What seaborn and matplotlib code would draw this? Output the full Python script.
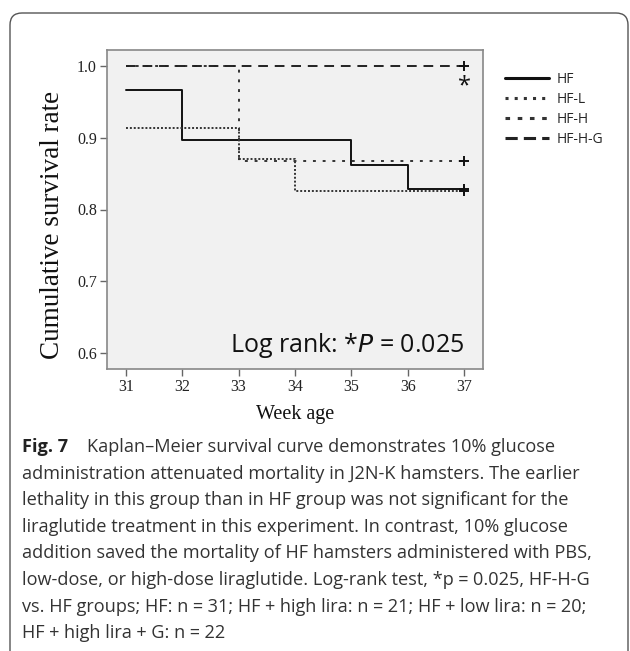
import numpy as np
import pandas as pd
import matplotlib
matplotlib.use("Agg")
import matplotlib.pyplot as plt
import seaborn as sns
from matplotlib.patches import FancyBboxPatch
from matplotlib.transforms import IdentityTransform
from matplotlib.lines import Line2D

# ---- data ----
weeks = [31, 32, 33, 34, 35, 36, 37]
groups = ["HF", "HF-L", "HF-H", "HF-H-G"]
surv_HF = [0.966, 0.897, 0.897, 0.897, 0.862, 0.828, 0.828]
surv_HFL = [0.913, 0.913, 0.870, 0.826, 0.826, 0.826, 0.826]
surv_HFH = [1.0, 1.0, 0.867, 0.867, 0.867, 0.867, 0.867]
surv_HFHG = [1.0, 1.0, 1.0, 1.0, 1.0, 1.0, 1.0]
yticks = [0.6, 0.7, 0.8, 0.9, 1.0]

sp_ = "\u2005"
caption_lines = [
    "Kaplan\u2013Meier survival curve demonstrates 10% glucose",
    "administration attenuated mortality in J2N-K hamsters. The earlier",
    "lethality in this group than in HF group was not significant for the",
    "liraglutide treatment in this experiment. In contrast, 10% glucose",
    "addition saved the mortality of HF hamsters administered with PBS,",
    f"low-dose, or high-dose liraglutide. Log-rank test, *p{sp_}={sp_}0.025, HF-H-G",
    f"vs. HF groups; HF: n{sp_}={sp_}31; HF{sp_}+{sp_}high lira: n{sp_}={sp_}21; HF{sp_}+{sp_}low lira: n{sp_}={sp_}20;",
    f"HF{sp_}+{sp_}high lira{sp_}+{sp_}G: n{sp_}={sp_}22",
]

series = {"HF": surv_HF, "HF-L": surv_HFL, "HF-H": surv_HFH, "HF-H-G": surv_HFHG}
df = pd.DataFrame(
    [(g, w, v) for g in groups for w, v in zip(weeks, series[g])],
    columns=["group", "week", "surv"],
)
cens = df[df["week"] == weeks[-1]]

sns.set_style("white")
plt.rcParams["font.family"] = ["DejaVu Sans"]

fig = plt.figure(figsize=(6.30, 6.51), dpi=100)
ax = fig.add_axes([106.7 / 630, 1 - 369 / 651, (482.7 - 106.7) / 630, (369 - 50) / 651])
ax.set_facecolor("#f1f1f1")

dashes = {
    "HF": "",
    "HF-L": (1, 1),
    "HF-H": (1.5, 3.5),
    "HF-H-G": (5, 3.5),
}
sns.lineplot(data=df, x="week", y="surv", hue="group", style="group",
             hue_order=groups, style_order=groups,
             palette=["#111111", "#333333", "#333333", "#222222"],
             dashes=dashes, estimator=None, drawstyle="steps-post",
             linewidth=1.4, ax=ax, legend=False)
sns.scatterplot(data=cens, x="week", y="surv", marker="+", color="#111111",
                s=60, linewidth=1.4, ax=ax, legend=False, zorder=5)

ax.set_xlim(30.663, 37.33)
ax.set_ylim(0.5777, 1.0223)
ax.set_xticks(weeks)
ax.set_yticks(yticks)
ax.set_yticklabels([f"{t:.1f}" for t in yticks])
serif = ["Liberation Serif", "DejaVu Serif"]
for lab in ax.get_xticklabels() + ax.get_yticklabels():
    lab.set_family(serif)
    lab.set_fontsize(11.5)
ax.tick_params(axis="both", direction="out", length=5, width=1, color="#666666",
               bottom=True, left=True, pad=2, labelcolor="#222222")
for sp in ax.spines.values():
    sp.set_color("#888888")
    sp.set_linewidth(1.2)

ax.set_xlabel("Week age", family=serif, fontsize=14.5, color="#111111")
ax.xaxis.set_label_coords(0.5, -0.113)
ax.set_ylabel("Cumulative survival rate", family=serif, fontsize=19.5, color="#111111")
ax.yaxis.set_label_coords(-0.112, 0.452)

sans = ["Open Sans", "DejaVu Sans"]
ax.text(37.0, 0.59, r"Log rank: *$\it{P}$ = 0.025", ha="right", va="bottom",
        fontsize=18, family=sans, color="#111111")
ax.text(37.0, 0.972, "*", ha="center", va="center", fontsize=17,
        family=sans, color="#111111")

# legend
handles = [Line2D([], [], color="#111111", lw=2.2, linestyle="-"),
           Line2D([], [], color="#333333", lw=2.2, linestyle=(0, (1, 2))),
           Line2D([], [], color="#333333", lw=2.2, linestyle=(0, (1.5, 2.5))),
           Line2D([], [], color="#222222", lw=2.2, linestyle=(0, (4, 2)))]
fig.legend(handles, groups, loc="upper left", bbox_to_anchor=(505 / 630, 1 - 72 / 651),
           frameon=False, handlelength=3.2, handletextpad=0.5,
           labelspacing=0.35, borderaxespad=0, borderpad=0,
           prop={"family": sans, "size": 10})

# caption
y0 = 1 - 447 / 651
dy = 26.6 / 651
fs = 13.1
fig.text(22 / 630, y0, "Fig. 7", ha="left", va="center", fontsize=fs,
         fontweight="bold", family=sans, color="#222222")
fig.text(87 / 630, y0, caption_lines[0], ha="left", va="center", fontsize=fs,
         family=sans, color="#333333")
for i, line in enumerate(caption_lines[1:], start=1):
    fig.text(22 / 630, y0 - i * dy, line, ha="left", va="center", fontsize=fs,
             family=sans, color="#333333")

# rounded outer border
box = FancyBboxPatch((10, -30), 618, 668, boxstyle="round,pad=0,rounding_size=12",
                     transform=IdentityTransform(), fill=False, ec="#555555", lw=1.0)
fig.patches.append(box)

fig.savefig("out.png", dpi=100)
